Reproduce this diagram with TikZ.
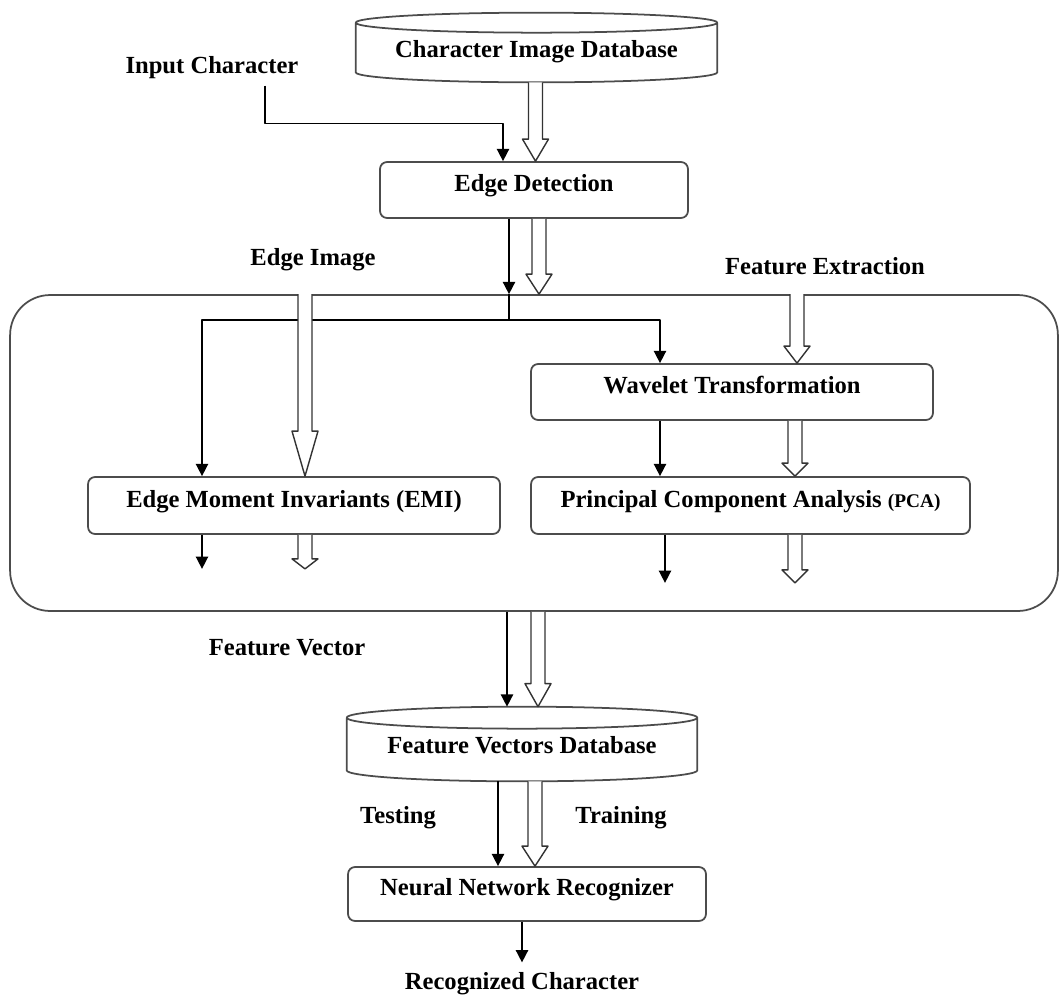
\documentclass[tikz,border=0pt]{standalone}
\usepackage{fontspec}
\setmainfont{Liberation Serif}
\usetikzlibrary{arrows.meta,calc}
\newdimen\pxu \pxu=0.02cm
% hollow block arrow, straight down: [head length]{start}{end}
\newcommand\hollowarrow[3][20]{%
  \draw[hollow] let \p1=#2, \p2=#3 in
    (\x1-7*\pxu,\y1) -- (\x1-7*\pxu,\y2+#1*\pxu) -- (\x1-13*\pxu,\y2+#1*\pxu)
    -- (\x1,\y2) -- (\x1+13*\pxu,\y2+#1*\pxu) -- (\x1+7*\pxu,\y2+#1*\pxu) -- (\x1+7*\pxu,\y1);}
% database outline round a node: {node}{y radius}
\newcommand\dbshape[2]{%
  \draw[boxline] let \p1=(#1.north west), \p2=(#1.north east) in
    (#1.north) ellipse[x radius={(\x2-\x1)/2}, y radius=#2*\pxu]
    (#1.north west) -- (#1.south west)
    arc[start angle=180, end angle=360, x radius={(\x2-\x1)/2}, y radius=#2*\pxu]
    -- (#1.north east);}
\begin{document}
\begin{tikzpicture}[x=0.02cm, y=0.02cm, >={Triangle[length=7pt,width=7pt]},
    line join=round, font=\fontsize{14}{16}\selectfont\bfseries,
    boxline/.style={draw=black!70, line width=1pt},
    box/.style={boxline, rounded corners=4pt, inner sep=0pt, text height=9pt, text depth=7pt},
    db/.style={inner sep=0pt, text height=14pt, text depth=3pt},
    lbl/.style={inner sep=0pt},
    flow/.style={line width=0.9pt},
    hollow/.style={draw=black!80, line width=0.8pt, fill=white}]
    \useasboundingbox (0,0) rectangle (1059,-998);
    % feature extraction frame
    \node[boxline, rounded corners=0.8cm, minimum width=20.96cm, minimum height=6.32cm] (fex) at (534,-453) {};
    % blocks
    \node[db, minimum width=7.22cm, minimum height=0.98cm] (cidb) at (536.5,-47.5) {Character Image Database};
    \dbshape{cidb}{10}
    \node[box, minimum width=6.16cm, minimum height=1.12cm] (edge) at (534,-190) {Edge Detection};
    \node[box, minimum width=8.04cm, minimum height=1.12cm] (wave) at (732,-392) {Wavelet Transformation};
    \node[box, minimum width=8.24cm, minimum height=1.14cm] (emi) at (294,-505.5) {Edge Moment Invariants (EMI)};
    \node[box, minimum width=8.78cm, minimum height=1.14cm] (pca) at (750.5,-505.5) {Principal Component Analysis {\fontsize{11}{13}\selectfont(PCA)}};
    \node[db, minimum width=7cm, minimum height=1.04cm] (fvdb) at (522,-744) {Feature Vectors Database};
    \dbshape{fvdb}{11}
    \node[box, minimum width=7.16cm, minimum height=1.08cm] (nnr) at (527,-894) {Neural Network Recognizer};
    % labels
    \node[lbl] (inchar) at (212,-68) {Input Character};
    \node[lbl] (edgeimg) at (313,-260) {Edge Image};
    \node[lbl] (featext) at (825,-266) {Feature Extraction};
    \node[lbl] (featvec) at (287,-648) {Feature Vector};
    \node[lbl] (testing) at (398,-818) {Testing};
    \node[lbl] (training) at (621,-818) {Training};
    \node[lbl] (recog) at (522,-984) {Recognized Character};
    % black flow
    \coordinate (split) at (509,-320);
    \draw[flow,->] ($(inchar.south)+(53,-6)$) -- ++(0,-38) -| ($(edge.north)+(-31,0)$);
    \draw[flow,->] ($(edge.south)+(-25,0)$) -- (split |- fex.north);
    \draw[flow] (split |- fex.north) -- (split);
    \draw[flow,->] (split) -| ($(emi.north)+(-92,0)$);
    \draw[flow,->] (split) -| ($(wave.north)+(-72,0)$);
    \draw[flow,->] ($(wave.south)+(-72,0)$) coordinate (w1) -- (w1 |- pca.north);
    \draw[flow,->] ($(emi.south)+(-92,0)$) -- ++(0,-34);
    \draw[flow,->] ($(pca.south)+(-85.5,0)$) -- ++(0,-48);
    \coordinate (fvin) at ($(fvdb.north)+(-15,11)$);
    \draw[flow,->] (fvin |- fex.south) -- (fvin);
    \draw[flow,->] ($(fvdb.south)+(-24,-11)$) coordinate (t1) -- (t1 |- nnr.north);
    \draw[flow,->] (recog.north |- nnr.south) -- ($(recog.north)+(0,10)$);
    % hollow flow
    \hollowarrow[22]{($(cidb.south)+(-1,-10)$)}{(edge.north)}
    \hollowarrow{($(edge.south)+(5,0)$)}{(fex.north)}
    \hollowarrow[45]{($(fex.north)+(-229,0)$)}{(emi.north)}
    \hollowarrow[17]{($(fex.north)+(263,0)$)}{(wave.north)}
    \hollowarrow[13]{($(wave.south)+(63,0)$)}{(pca.north)}
    \hollowarrow[10]{($(emi.south)+(11,0)$)}{($(emi.south)+(11,-34)$)}
    \hollowarrow[13]{($(pca.south)+(44.5,0)$)}{($(pca.south)+(44.5,-48)$)}
    \hollowarrow[23]{($(fex.south)+(4,0)$)}{($(fvdb.north)+(16,11)$)}
    \hollowarrow{($(fvdb.south)+(13,-11)$)}{(nnr.north)}
\end{tikzpicture}
\end{document}
